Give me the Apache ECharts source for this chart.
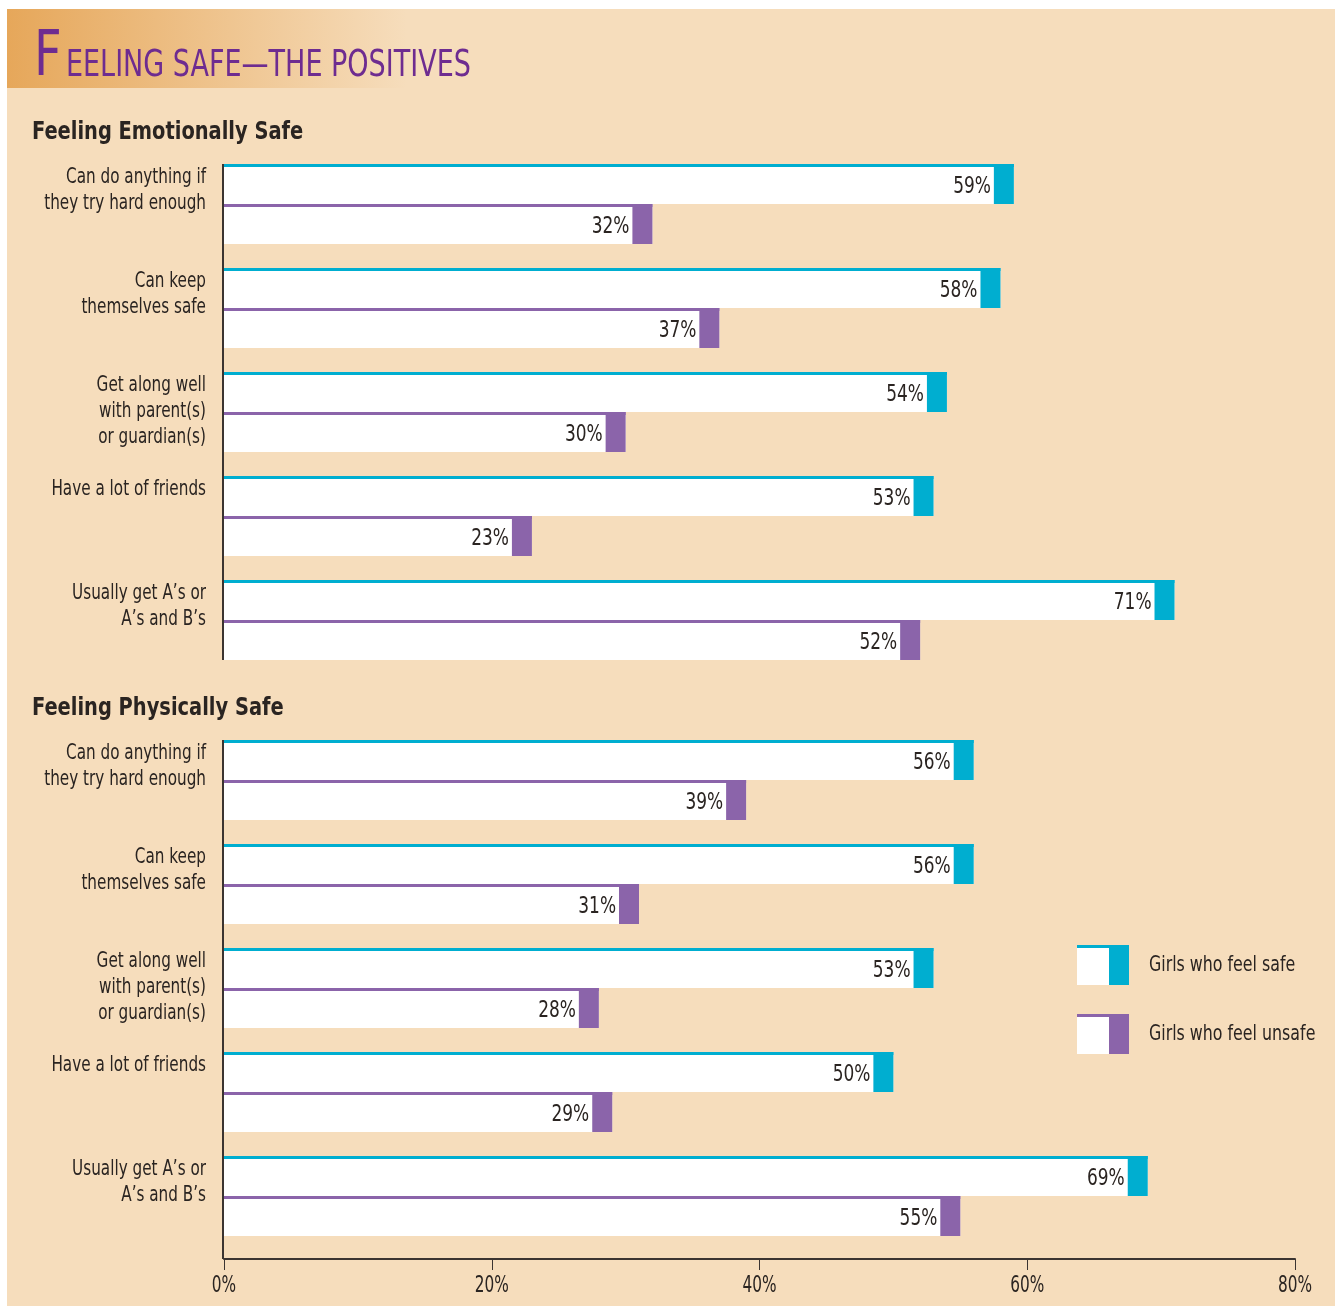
<!DOCTYPE html>
<html>
<head>
<meta charset="utf-8">
<script src="https://cdn.jsdelivr.net/npm/echarts@6/dist/echarts.min.js"></script>
<style>
  html, body { margin: 0; padding: 0; background: #fff; }
  #chart { width: 1335px; height: 1306px; }
</style>
</head>
<body>
<div id="chart"></div>
<script>
  // data
  const categories = [
    'Can do anything if\nthey try hard enough',
    'Can keep\nthemselves safe',
    'Get along well\nwith parent(s)\nor guardian(s)',
    'Have a lot of friends',
    'Usually get A\u2019s or\nA\u2019s and B\u2019s'
  ];
  const emotionalSafe = [59, 58, 54, 53, 71];
  const emotionalUnsafe = [32, 37, 30, 23, 52];
  const physicalSafe = [56, 56, 53, 50, 69];
  const physicalUnsafe = [39, 31, 28, 29, 55];
  const xTicks = [0, 20, 40, 60, 80];

  const CYAN = '#00aed0';
  const PURPLE = '#8b64aa';
  const BG = '#f6ddbc';
  const INK = '#2a2421';
  const TITLE = '#6e2c90';
  const FONT = '"DejaVu Sans Condensed", sans-serif';
  const capW = 20;

  const chart = echarts.init(document.getElementById('chart'));

  // 窄体字：没有 condensed 字体，只能横向压缩
  const narrow = (text, x, y, font, sx, extra) => ({
    type: 'text', x, y, scaleX: sx,
    style: Object.assign({
      text, x: 0, y: 0, font: font + ' ' + FONT, fill: INK, verticalAlign: 'middle'
    }, extra || {})
  });

  // 每个柱子：白底 + 顶部色线 + 末端色块 + 数值
  const makeRender = (color, isSafe, axisExtra) => (params, api) => {
    const idx = api.value(1);
    const val = api.value(0);
    const band = api.size([0, 1])[1];
    const barH = band * 40 / 104;
    const c = api.coord([val, idx]);
    const x0 = api.coord([0, idx])[0];
    const top = isSafe ? c[1] - barH : c[1];
    const children = [
      { type: 'rect', shape: { x: x0, y: top, width: c[0] - x0, height: barH }, style: { fill: '#fff' } },
      { type: 'rect', shape: { x: x0, y: top, width: c[0] - x0, height: 3 }, style: { fill: color } },
      { type: 'rect', shape: { x: c[0] - capW, y: top, width: capW, height: barH }, style: { fill: color } },
      narrow(val + '%', c[0] - capW - 3, top + 3 + barH / 2, '23px', 0.82, { align: 'right' })
    ];
    if (isSafe) {
      children.push(narrow(categories[idx], x0 - 18, top, '22px', 0.77,
        { align: 'right', verticalAlign: 'top', lineHeight: 26 }));
      if (idx === 0) {
        const last = api.coord([0, categories.length - 1])[1];
        children.push({
          type: 'line', z2: 10,
          shape: { x1: x0 - 1, y1: top, x2: x0 - 1, y2: last + barH + axisExtra },
          style: { stroke: '#3b3431', lineWidth: 2 }
        });
      }
    }
    return { type: 'group', children };
  };

  // x 轴刻度文字（同样压窄）
  const renderTick = (params, api) => {
    const p = api.coord([api.value(0), 0]);
    const cs = params.coordSys;
    return narrow(api.value(0) + '%', p[0], cs.y + cs.height + 11 + 27, '23px', 0.74, { align: 'center' });
  };

  const toData = (arr) => arr.map((v, i) => [v, i]);

  const option = {
    backgroundColor: '#fff',
    animation: false,
    graphic: [
      { type: 'rect', z: -10, shape: { x: 7, y: 9, width: 1328, height: 1297 }, style: { fill: BG } },
      {
        type: 'rect', z: -9, shape: { x: 7, y: 9, width: 400, height: 79 },
        style: {
          fill: new echarts.graphic.LinearGradient(0, 0, 1, 0, [
            { offset: 0, color: '#e6a75a' },
            { offset: 1, color: BG }
          ])
        }
      },
      narrow('F', 34, 59, '63px', 0.85, { fill: TITLE }),
      narrow('EELING SAFE\u2014THE POSITIVES', 66, 66, '38px', 0.79, { fill: TITLE }),
      narrow('Feeling Emotionally Safe', 32, 133, 'bold 24px', 0.9),
      narrow('Feeling Physically Safe', 32, 709, 'bold 24px', 0.9),
      // legend
      { type: 'rect', shape: { x: 1077, y: 945, width: 52, height: 40 }, style: { fill: '#fff' } },
      { type: 'rect', shape: { x: 1077, y: 945, width: 52, height: 3 }, style: { fill: CYAN } },
      { type: 'rect', shape: { x: 1109, y: 945, width: 20, height: 40 }, style: { fill: CYAN } },
      narrow('Girls who feel safe', 1149, 965, '22px', 0.8),
      { type: 'rect', shape: { x: 1077, y: 1014, width: 52, height: 40 }, style: { fill: '#fff' } },
      { type: 'rect', shape: { x: 1077, y: 1014, width: 52, height: 3 }, style: { fill: PURPLE } },
      { type: 'rect', shape: { x: 1109, y: 1014, width: 20, height: 40 }, style: { fill: PURPLE } },
      narrow('Girls who feel unsafe', 1149, 1034, '22px', 0.8)
    ],
    grid: [
      { left: 224, right: 40, top: 152, height: 520 },
      { left: 224, right: 40, top: 728, height: 520 }
    ],
    xAxis: [
      { gridIndex: 0, type: 'value', min: 0, max: 80, interval: 20, show: false },
      {
        gridIndex: 1, type: 'value', min: xTicks[0], max: xTicks[xTicks.length - 1], interval: 20,
        offset: 11,
        splitLine: { show: false },
        axisLine: { show: true, lineStyle: { color: '#3b3431', width: 2 } },
        axisTick: { show: true, length: 11, lineStyle: { color: '#3b3431', width: 1 } },
        axisLabel: { show: false }
      }
    ],
    yAxis: [
      { gridIndex: 0, type: 'category', data: categories, inverse: true, show: false },
      { gridIndex: 1, type: 'category', data: categories, inverse: true, show: false }
    ],
    series: [
      { type: 'custom', name: 'Girls who feel safe', xAxisIndex: 0, yAxisIndex: 0, encode: { x: 0, y: 1 }, renderItem: makeRender(CYAN, true, 0), data: toData(emotionalSafe) },
      { type: 'custom', name: 'Girls who feel unsafe', xAxisIndex: 0, yAxisIndex: 0, encode: { x: 0, y: 1 }, renderItem: makeRender(PURPLE, false, 0), data: toData(emotionalUnsafe) },
      { type: 'custom', name: 'Girls who feel safe', xAxisIndex: 1, yAxisIndex: 1, encode: { x: 0, y: 1 }, renderItem: makeRender(CYAN, true, 23), data: toData(physicalSafe) },
      { type: 'custom', name: 'Girls who feel unsafe', xAxisIndex: 1, yAxisIndex: 1, encode: { x: 0, y: 1 }, renderItem: makeRender(PURPLE, false, 0), data: toData(physicalUnsafe) },
      { type: 'custom', name: 'ticks', xAxisIndex: 1, yAxisIndex: 1, encode: { x: 0 }, renderItem: renderTick, data: xTicks.map((v) => [v]) }
    ]
  };

  chart.setOption(option);
  window.addEventListener('resize', chart.resize);
</script>
</body>
</html>
